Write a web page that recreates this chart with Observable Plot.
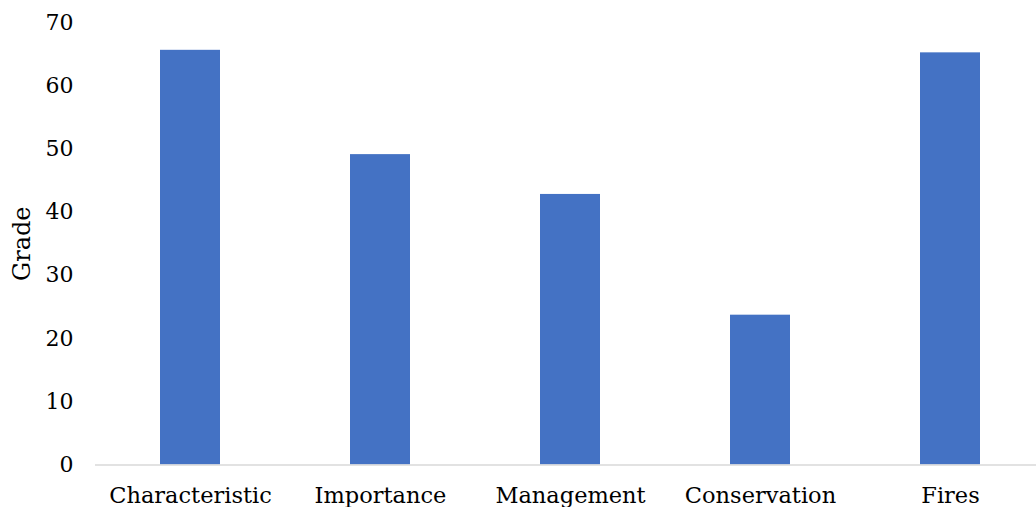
<!DOCTYPE html>
<html>
<head>
<meta charset="utf-8">
<script src="https://cdn.jsdelivr.net/npm/d3@7"></script>
<script src="https://cdn.jsdelivr.net/npm/@observablehq/plot@0.6"></script>
<style>
  html, body { margin: 0; padding: 0; background: #fff; }
  #chart svg { display: block; }
</style>
</head>
<body>
<div id="chart"></div>
<script>
// Grade by topic
const categories = ["Characteristic", "Importance", "Management", "Conservation", "Fires"];
const grades = [65.6, 49.1, 42.8, 23.7, 65.2];
const yTicks = [0, 10, 20, 30, 40, 50, 60, 70];

const rows = categories.map((topic, i) => ({topic, grade: grades[i]}));

const chart = Plot.plot({
  width: 1036,
  height: 507,
  marginLeft: 95,
  marginRight: -9,
  marginTop: 22,
  marginBottom: 42.5,
  style: {fontFamily: "'DejaVu Serif', serif", fontSize: "22.5px", color: "#000", background: "#fff"},
  x: {domain: categories, range: [95, 1045], paddingInner: 0.684, paddingOuter: 0.342},
  y: {domain: [0, 70]},
  marks: [
    Plot.barY(rows, {x: "topic", y: "grade", fill: "#4472C4"}),
    Plot.ruleY([0], {stroke: "#d9d9d9", strokeWidth: 1.5}),
    Plot.axisY({ticks: yTicks, tickSize: 0, tickPadding: 22, label: null, fill: "#000", fontSize: 22}),
    Plot.axisX({tickSize: 0, tickPadding: 22, label: null, fill: "#000", fontSize: 22.5}),
    Plot.text(["Grade"], {frameAnchor: "left", textAnchor: "middle", rotate: -90, dx: -73, fill: "#000", fontSize: 24})
  ]
});

document.getElementById("chart").appendChild(chart);
</script>
</body>
</html>
